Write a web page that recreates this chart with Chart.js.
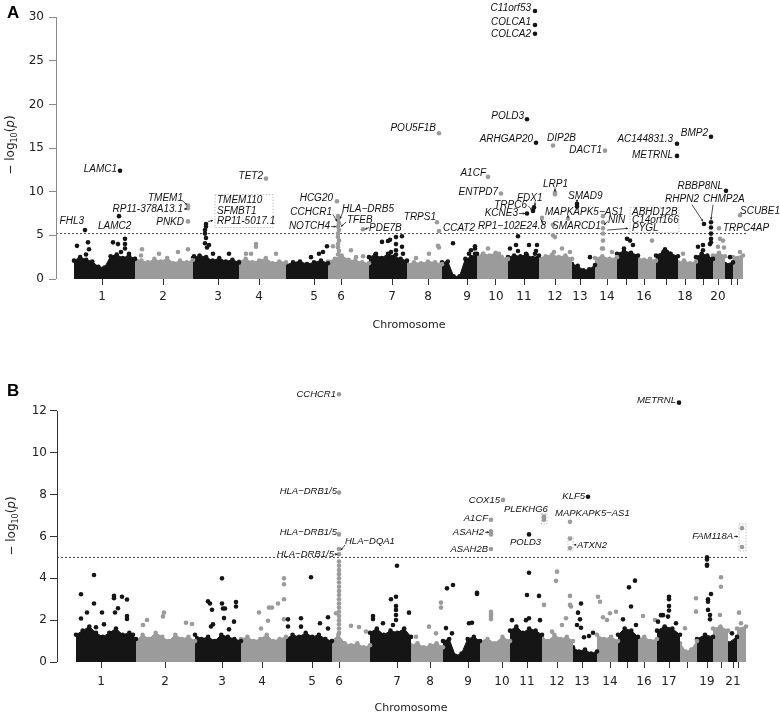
<!DOCTYPE html>
<html>
<head>
<meta charset="utf-8">
<script src="https://cdn.jsdelivr.net/npm/chart.js@4.4.1/dist/chart.umd.min.js"></script>
<style>
  html, body { margin: 0; padding: 0; background: #fff; }
  #wrapA { position: absolute; left: 0; top: 0; width: 780px; height: 340px; }
  #wrapB { position: absolute; left: 0; top: 340px; width: 780px; height: 375px; }
</style>
</head>
<body>
<div id="wrapA"><canvas id="chartA" width="780" height="340"></canvas></div>
<div id="wrapB"><canvas id="chartB" width="780" height="375"></canvas></div>
<script>
// ---- panel A data (x = cumulative genome position index, y = -log10 p) ----
const chromStartA = [74, 135, 193, 239, 286, 328, 369, 407, 442, 477, 508, 539, 572, 595, 617, 638, 656, 678, 696, 713, 725, 733];
const chromEndA = 743;
const tickPosA = [102, 163, 218, 259, 314, 341, 392, 428, 467, 496, 524, 555, 580, 607, 626, 644, 666, 685, 703, 718, 731, 737];
const tickLabelA = ['1', '2', '3', '4', '5', '6', '7', '8', '9', '10', '11', '12', '13', '14', '', '16', '', '18', '', '20', '', ''];
const yTicksA = [0, 5, 10, 15, 20, 25, 30];
const thresholdA = 5.2;

// top of the dense SNP cloud per chromosome
const bandA = [
  [2.1, 2.5, 2.2, 2.0, 1.4, 1.3, 2.6, 2.8, 2.4, 2.7, 2.3],
  [2.3, 2.1, 1.9, 2.3, 2.0, 2.4, 1.8, 2.1, 1.9, 2.2],
  [2.4, 2.7, 2.5, 2.1, 2.4, 2.0, 2.2, 1.9],
  [2.0, 2.3, 1.9, 2.1, 2.4, 1.8, 2.0, 1.9],
  [1.6, 1.9, 2.0, 1.7, 1.9, 2.1, 1.8],
  [2.0, 2.3, 2.7, 2.2, 2.1, 1.9, 1.8],
  [2.5, 2.8, 2.4, 2.9, 2.6, 2.3, 2.1],
  [1.7, 1.9, 1.8, 2.0, 1.9, 1.7],
  [1.9, 2.0, 0.3, 0.3, 2.3, 2.5, 2.9],
  [2.6, 2.9, 2.7, 3.0, 2.5, 2.3],
  [2.5, 2.7, 2.6, 2.8, 2.4, 2.7],
  [2.4, 2.6, 2.8, 2.5, 2.7, 2.3],
  [1.7, 1.5, 1.0, 1.1, 1.6],
  [2.4, 2.6, 2.3, 2.5],
  [2.9, 3.2, 3.0, 2.7],
  [2.4, 2.2, 2.3, 2.1],
  [2.7, 3.1, 2.9, 2.6],
  [1.9, 2.1, 1.8, 2.0],
  [2.5, 2.9, 2.7, 2.3],
  [2.7, 3.0, 2.6],
  [1.7, 1.9],
  [2.5, 2.7]
];

const hitsA = [
  [535, 30.7], [535, 29.1], [535, 28.1], [527, 18.3], [536, 15.6], [553, 15.3], [605, 14.7],
  [677, 15.5], [677, 14.1], [711, 16.3], [439, 16.7], [120, 12.4], [266, 11.5], [488, 11.7],
  [501, 9.8], [726, 10.1], [337, 8.9], [555, 9.7], [555, 9.9], [577, 8.6], [577, 8.3],
  [534, 8.2], [533, 7.8], [527, 7.5], [740, 7.3], [119, 7.2], [188, 8.4], [188, 8.1],
  [188, 6.6], [704, 6.3], [711, 6.5], [719, 5.8], [437, 6.5], [439, 5.5], [363, 5.7],
  [85, 5.6], [542, 7.0], [568, 6.9], [553, 6.2], [603, 7.2], [603, 6.5], [603, 5.8],
  [603, 5.2], [603, 4.4], [603, 3.5],
  [338, 7.2], [338, 6.8], [339, 6.4], [338, 6.0], [339, 5.6], [338, 5.2], [338, 4.8],
  [339, 4.4], [338, 4.0], [338, 3.6], [339, 3.2], [338, 2.8],
  [206, 6.3], [206, 6.0], [205, 5.6], [205, 5.2], [206, 4.7], [205, 4.1], [207, 3.6],
  [209, 3.9], [213, 2.9], [194, 2.6], [229, 2.9],
  [77, 3.8], [88, 4.2], [89, 3.4], [86, 2.8], [113, 4.2], [118, 4.0], [125, 4.6],
  [125, 4.0], [125, 3.5], [121, 3.1], [129, 2.9],
  [141, 2.7], [142, 3.4], [159, 2.9], [178, 3.1], [188, 3.4],
  [256, 4.0], [256, 3.7], [246, 2.9], [251, 2.9], [276, 2.9],
  [327, 3.75], [323, 3.1], [319, 2.9], [311, 2.5],
  [333, 3.75], [351, 3.3], [356, 2.5], [363, 2.6],
  [382, 4.25], [388, 4.35], [390, 4.5], [396, 4.8], [402, 4.9], [396, 4.0], [396, 3.3],
  [396, 2.8], [403, 2.9], [402, 3.7], [376, 2.9], [391, 3.1],
  [438, 3.8], [439, 3.6], [416, 2.4], [429, 2.9],
  [453, 4.1], [469, 2.9], [471, 3.3], [475, 3.75], [475, 3.5], [475, 2.9],
  [483, 2.9], [488, 3.5], [499, 2.9],
  [510, 3.5], [518, 4.9], [516, 3.9], [518, 3.2], [526, 2.9], [529, 3.9], [536, 3.2],
  [537, 3.9], [535, 2.9],
  [553, 5.0], [555, 4.8], [554, 3.1], [562, 3.5], [570, 3.1],
  [590, 2.5], [602, 3.5], [612, 3.1],
  [627, 4.6], [630, 4.4], [633, 3.9], [624, 3.5], [652, 4.4],
  [665, 3.4], [667, 3.1], [670, 2.9], [683, 2.9],
  [711, 5.9], [711, 5.2], [711, 4.6], [711, 4.2], [703, 3.3], [703, 3.9], [698, 3.7], [710, 4.0],
  [720, 4.6], [723, 4.4], [718, 3.7], [724, 3.6], [730, 2.5], [740, 3.1]
];

// ---- panel B data ----
const chromStartB = [76, 136, 195, 241, 286, 332, 370, 411, 443, 480, 510, 542, 573, 597, 618, 638, 657, 680, 697, 713, 728, 737];
const chromEndB = 746;
const tickPosB = [101, 165, 222, 262, 312, 339, 397, 430, 468, 502, 527, 557, 582, 610, 627, 644, 669, 687, 707, 721, 733, 738];
const tickLabelB = ['1', '2', '3', '4', '5', '6', '7', '8', '9', '10', '11', '12', '13', '14', '', '16', '17', '', '19', '', '21', ''];
const yTicksB = [0, 2, 4, 6, 8, 10, 12];
const thresholdB = 5.0;

const bandB = [
  [1.3, 1.5, 1.7, 1.4, 1.2, 1.4, 1.6, 1.3, 1.4, 1.1],
  [1.0, 1.3, 1.1, 1.4, 1.2, 1.0, 1.3, 1.1, 1.2, 1.0],
  [1.3, 1.1, 1.2, 1.0, 1.3, 1.2, 1.1, 1.0],
  [1.1, 1.2, 1.0, 1.1, 1.3, 1.0, 1.1, 1.2],
  [1.1, 1.3, 1.2, 1.4, 1.2, 1.3, 1.1, 1.0],
  [1.0, 1.3, 0.9, 0.8, 0.9, 0.7, 0.8],
  [1.4, 1.6, 1.3, 1.5, 1.4, 1.6, 1.2],
  [0.8, 0.9, 0.7, 0.8, 0.9, 0.7],
  [1.0, 1.1, 0.3, 0.4, 1.1, 1.2, 1.0],
  [1.0, 1.1, 0.9, 1.2, 1.0],
  [1.5, 1.7, 1.4, 1.6, 1.5, 1.3],
  [1.2, 1.0, 1.3, 1.1, 1.2, 1.0],
  [0.7, 0.5, 0.6, 0.4, 0.5],
  [1.3, 1.1, 1.2, 1.0],
  [1.3, 1.6, 1.5, 1.2],
  [1.1, 1.2, 1.0, 1.1],
  [1.5, 1.7, 1.6, 1.3],
  [0.9, 0.5, 0.6, 1.0],
  [1.1, 1.3, 1.2],
  [1.6, 1.7, 1.5],
  [0.9, 1.2],
  [1.6, 1.7]
];

const hitsB = [
  [339, 12.8], [679, 12.4], [339, 8.1], [339, 6.1], [339, 5.4], [339, 5.15], [503, 7.75],
  [491, 6.8], [491, 6.25], [491, 6.1], [491, 5.4], [544, 6.95], [544, 6.8], [529, 6.1],
  [588, 7.9], [570, 6.7], [570, 5.9], [570, 5.45], [742, 6.4], [742, 5.5],
  [707, 5.0], [707, 4.9], [707, 4.6],
  [339, 4.8], [339, 4.6], [339, 4.4], [339, 4.2], [339, 4.0], [339, 3.8], [339, 3.6],
  [339, 3.4], [339, 3.2], [339, 3.0], [339, 2.8], [339, 2.6], [339, 2.4], [339, 2.2],
  [339, 2.0], [339, 1.8], [339, 1.6], [339, 1.4],
  [94, 4.16], [81, 3.24], [94, 2.8], [87, 2.37], [81, 2.08], [102, 2.37], [104, 1.8],
  [96, 1.66], [114, 3.16], [114, 3.05], [122, 3.12], [127, 2.99], [118, 2.57], [115, 2.37],
  [127, 2.2], [127, 2.06], [133, 1.3],
  [147, 2.01], [143, 1.77], [164, 2.37], [163, 2.18], [186, 1.88], [192, 1.82],
  [208, 2.9], [210, 2.8], [212, 2.5], [213, 1.8], [211, 1.7], [222, 4.0], [222, 2.8],
  [223, 2.56], [225, 2.56], [224, 2.1], [236, 2.87], [236, 2.65], [234, 1.93], [229, 1.56],
  [284, 4.0], [284, 3.72], [284, 3.0], [278, 2.8], [272, 2.6], [269, 2.6], [259, 2.37],
  [268, 1.97], [261, 1.6], [284, 2.04],
  [288, 2.04], [288, 1.7], [311, 4.05], [301, 2.09], [301, 1.69], [320, 1.85], [328, 2.14], [328, 1.6],
  [336, 2.33], [351, 1.73], [359, 1.67], [366, 1.46],
  [397, 4.6], [391, 3.0], [396, 3.12], [396, 2.68], [396, 2.49], [396, 2.25], [396, 2.01],
  [409, 2.36], [373, 2.2], [373, 2.05], [393, 1.77], [383, 1.85],
  [429, 1.69], [416, 1.21], [436, 1.37], [441, 2.84], [441, 2.6],
  [447, 3.52], [453, 3.68], [446, 1.62], [452, 1.37], [477, 3.31], [477, 3.25], [469, 1.85], [472, 1.88],
  [491, 2.4], [491, 2.3], [491, 2.2], [491, 2.05],
  [529, 4.27], [527, 3.2], [526, 2.0], [512, 2.0], [529, 2.09], [539, 3.16], [540, 2.0],
  [557, 4.32], [556, 3.88], [544, 2.73], [570, 3.16], [570, 2.73], [571, 2.65], [566, 2.09],
  [562, 1.77], [552, 1.45],
  [581, 2.8], [578, 2.36], [580, 2.04], [577, 1.77], [581, 1.64], [584, 1.18], [589, 1.24], [593, 1.4],
  [598, 3.12], [600, 2.88], [603, 2.14], [610, 2.33], [607, 2.01], [616, 2.4],
  [629, 3.57], [635, 3.89], [631, 2.65], [623, 2.04], [636, 1.77],
  [643, 2.2], [655, 2.01],
  [661, 2.24], [663, 2.24], [669, 3.12], [669, 3.0], [669, 2.68], [669, 2.46], [668, 2.17],
  [676, 1.85], [658, 1.93],
  [696, 3.05], [696, 2.41], [685, 1.61],
  [707, 4.65], [711, 3.25], [708, 3.0], [708, 2.88], [708, 2.49], [710, 2.25], [710, 2.04],
  [721, 4.05], [721, 3.6], [720, 2.25], [732, 1.37], [739, 2.36], [741, 1.85]
];

// ---- annotation layout (text, x, y, align) ----
const labelsA = [
  ['C11orf53', 531, 31.0, 'right'], ['COLCA1', 531, 29.4, 'right'], ['COLCA2', 531, 28.0, 'right'],
  ['POLD3', 524, 18.6, 'right'], ['ARHGAP20', 533, 16.0, 'right'], ['DIP2B', 547, 16.1, 'left'],
  ['DACT1', 602, 14.7, 'right'], ['AC144831.3', 673, 16.0, 'right'], ['METRNL', 673, 14.2, 'right'],
  ['BMP2', 708, 16.7, 'right'], ['POU5F1B', 436, 17.3, 'right'], ['LAMC1', 117, 12.6, 'right'],
  ['TET2', 263, 11.8, 'right'], ['A1CF', 486, 12.1, 'right'], ['ENTPD7', 498, 9.9, 'right'],
  ['RBBP8NL', 723, 10.6, 'right'], ['LRP1', 543, 10.8, 'left'], ['SMAD9', 568, 9.5, 'left'],
  ['FDX1', 517, 9.3, 'left'], ['TRPC6', 527, 8.5, 'right'], ['KCNE3', 518, 7.5, 'right'],
  ['RP1\u2212102E24.8', 546, 6.1, 'right'], ['MAPKAPK5\u2212AS1', 545, 7.6, 'left'],
  ['SMARCD1', 552, 6.1, 'left'], ['NIN', 608, 6.7, 'left'], ['RHPN2', 699, 9.1, 'right'],
  ['CHMP2A', 703, 9.1, 'left'], ['SCUBE1', 740, 7.8, 'left'], ['TRPC4AP', 723, 5.8, 'left'],
  ['HCG20', 333, 9.3, 'right'], ['CCHCR1', 332, 7.6, 'right'], ['HLA\u2212DRB5', 342, 8.0, 'left'],
  ['TFEB', 347, 6.7, 'left'], ['NOTCH4', 330, 6.0, 'right'], ['PDE7B', 369, 5.8, 'left'],
  ['TRPS1', 436, 7.1, 'right'], ['CCAT2', 443, 5.8, 'left'], ['FHL3', 84, 6.6, 'right'],
  ['LAMC2', 98, 6.1, 'left'], ['RP11-378A13.1', 183, 7.95, 'right'], ['TMEM1', 183, 9.2, 'right'],
  ['PNKD', 184, 6.5, 'right'], ['TMEM110', 217, 8.98, 'left'], ['SFMBT1', 217, 7.73, 'left'],
  ['RP11-5017.1', 217, 6.6, 'left'], ['ABHD12B', 632, 7.6, 'left'], ['C14orf166', 632, 6.7, 'left'],
  ['PYGL', 632, 5.8, 'left']
];
const arrowsA = [
  [[182, 9.0], [187, 8.5]], [[184, 8.0], [187, 8.05]], [[208, 6.6], [213, 6.7]],
  [[333, 7.4], [337, 6.6]], [[343, 7.7], [340, 6.9]], [[346, 6.5], [341, 6.0]],
  [[331, 6.0], [336, 6.0]], [[369, 5.9], [365, 5.7]], [[528, 8.4], [532, 7.9]],
  [[519, 7.5], [525, 7.5]], [[535, 8.9], [535, 8.4]], [[544, 6.2], [541, 6.8]],
  [[555, 10.5], [555, 10.0]], [[577, 9.1], [577, 8.8]], [[568, 7.3], [568, 7.0]],
  [[608, 6.6], [604, 6.2]], [[607, 5.6], [628, 5.8]], [[692, 8.5], [703, 6.6]], [[713, 8.5], [711, 6.8]]
];
const boxesA = [[215, 273, 5.9, 9.66], [630, 679, 5.34, 8.18]];

const labelsB = [
  ['CCHCR1', 336, 12.8, 'right'], ['METRNL', 676, 12.5, 'right'],
  ['HLA\u2212DRB1/5', 337, 8.15, 'right'], ['HLA\u2212DRB1/5', 337, 6.2, 'right'],
  ['HLA\u2212DQA1', 345, 5.75, 'left'], ['HLA\u2212DRB1/5', 334, 5.15, 'right'],
  ['COX15', 500, 7.75, 'right'], ['A1CF', 488, 6.85, 'right'], ['ASAH2', 484, 6.2, 'right'],
  ['ASAH2B', 488, 5.4, 'right'], ['PLEKHG6', 504, 7.3, 'left'], ['POLD3', 510, 5.7, 'left'],
  ['KLF5', 585, 7.9, 'right'], ['MAPKAPK5\u2212AS1', 555, 7.1, 'left'], ['ATXN2', 577, 5.6, 'left'],
  ['FAM118A', 733, 6.0, 'right']
];
const arrowsB = [
  [[485, 6.2], [489, 6.2]], [[576, 5.6], [574, 5.6]], [[734, 6.0], [738, 6.0]],
  [[345, 5.6], [341, 5.35]], [[334.5, 5.15], [337.5, 5.15]]
];
const boxesB = [[541.5, 547, 6.6, 7.1], [568, 573, 5.31, 5.98], [739, 746, 5.31, 6.6]];

const BLACK = '#151515';
const GREY = '#9b9b9b';

function colourAt(x, starts) {
  let i = 0;
  while (i + 1 < starts.length && x >= starts[i + 1]) i++;
  return i % 2 === 0 ? BLACK : GREY;
}

function drawYTitle(ctx, cx, cy, size) {
  const parts = [
    ['\u2212 log', `${size}px "DejaVu Sans"`, 0],
    ['10', `${Math.round(size * 0.7)}px "DejaVu Sans"`, size * 0.3],
    ['(', `${size}px "DejaVu Sans"`, 0],
    ['p', `italic ${size}px "DejaVu Sans"`, 0],
    [')', `${size}px "DejaVu Sans"`, 0]
  ];
  ctx.save();
  ctx.translate(cx, cy);
  ctx.rotate(-Math.PI / 2);
  ctx.textBaseline = 'middle';
  ctx.textAlign = 'left';
  let total = 0;
  parts.forEach(p => { ctx.font = p[1]; total += ctx.measureText(p[0]).width; });
  let xx = -total / 2;
  parts.forEach(p => {
    ctx.font = p[1];
    ctx.fillText(p[0], xx, p[2]);
    xx += ctx.measureText(p[0]).width;
  });
  ctx.restore();
}

function annotPlugin(cfg) {
  return {
    id: 'annot',
    afterDatasetsDraw(chart) {
      const { ctx, scales: { x, y } } = chart;
      const px = v => x.getPixelForValue(v);
      const py = v => y.getPixelForValue(v);
      ctx.save();
      // y axis line, only across the tick range
      const yt = cfg.yTicks;
      ctx.strokeStyle = cfg.axisCol;
      ctx.lineWidth = 1;
      ctx.beginPath();
      ctx.moveTo(Math.round(px(cfg.xmin)) + 0.5, py(yt[0]));
      ctx.lineTo(Math.round(px(cfg.xmin)) + 0.5, py(yt[yt.length - 1]));
      ctx.stroke();
      // dotted boxes round stacked hits
      ctx.strokeStyle = '#b0b0b0';
      ctx.lineWidth = 0.8;
      ctx.setLineDash([1.5, 1.5]);
      cfg.boxes.forEach(b => {
        ctx.strokeRect(px(b[0]), py(b[3]), px(b[1]) - px(b[0]), py(b[2]) - py(b[3]));
      });
      ctx.setLineDash([]);
      // pointer lines
      ctx.strokeStyle = '#222';
      ctx.fillStyle = '#222';
      ctx.lineWidth = 0.8;
      cfg.arrows.forEach(a => {
        const x0 = px(a[0][0]), y0 = py(a[0][1]), x1 = px(a[1][0]), y1 = py(a[1][1]);
        ctx.beginPath(); ctx.moveTo(x0, y0); ctx.lineTo(x1, y1); ctx.stroke();
        const ang = Math.atan2(y1 - y0, x1 - x0);
        ctx.beginPath();
        ctx.moveTo(x1, y1);
        ctx.lineTo(x1 - 2.5 * Math.cos(ang - 0.5), y1 - 2.5 * Math.sin(ang - 0.5));
        ctx.lineTo(x1 - 2.5 * Math.cos(ang + 0.5), y1 - 2.5 * Math.sin(ang + 0.5));
        ctx.closePath(); ctx.fill();
      });
      // gene labels
      ctx.fillStyle = '#111';
      ctx.font = `italic ${cfg.labelSize}px "Liberation Sans", Arial, sans-serif`;
      ctx.textBaseline = 'middle';
      cfg.labels.forEach(l => {
        ctx.textAlign = l[3];
        ctx.fillText(l[0], px(l[1]), py(l[2]));
      });
      // panel letter and axis titles
      ctx.fillStyle = '#000';
      ctx.font = 'bold 17px "Liberation Sans", Arial, sans-serif';
      ctx.textAlign = 'left';
      ctx.fillText(cfg.letter, 7, cfg.letterY);
      ctx.fillStyle = '#222';
      ctx.font = '11px "DejaVu Sans"';
      ctx.textAlign = 'center';
      ctx.fillText('Chromosome', cfg.xTitle[0], cfg.xTitle[1]);
      drawYTitle(ctx, cfg.yTitle[0], cfg.yTitle[1], 12);
      ctx.restore();
    }
  };
}

function makePanel(id, cfg) {
  const datasets = [];
  datasets.push({
    type: 'scatter',
    data: cfg.hits.map(p => ({ x: p[0], y: p[1] })),
    pointRadius: 2.3,
    pointBorderWidth: 0,
    pointBackgroundColor: cfg.hits.map(p => colourAt(p[0], cfg.starts)),
    clip: false,
    order: 0
  });
  datasets.push({
    type: 'line',
    data: [{ x: cfg.xmin, y: cfg.threshold }, { x: cfg.xmax, y: cfg.threshold }],
    borderColor: '#444',
    borderWidth: 1,
    borderDash: [2, 2],
    pointRadius: 0,
    order: 1
  });
  cfg.bands.forEach((h, i) => {
    const x0 = cfg.starts[i];
    const x1 = i + 1 < cfg.starts.length ? cfg.starts[i + 1] : cfg.end;
    const col = i % 2 === 0 ? BLACK : GREY;
    datasets.push({
      type: 'line',
      data: h.map((v, j) => ({ x: x0 + (x1 - x0) * j / (h.length - 1), y: v })),
      borderColor: col,
      borderWidth: 1,
      backgroundColor: col,
      fill: 'origin',
      pointRadius: 2.3,
      pointBorderWidth: 0,
      pointBackgroundColor: col,
      tension: 0,
      clip: false,
      order: 2
    });
  });

  const noPad = s => { s.paddingTop = 0; s.paddingBottom = 0; s.paddingLeft = 0; s.paddingRight = 0; };

  new Chart(document.getElementById(id), {
    type: 'scatter',
    data: { datasets },
    options: {
      responsive: false,
      animation: false,
      events: [],
      layout: { padding: { top: cfg.top, right: 780 - cfg.xmax, left: 0, bottom: 0 } },
      plugins: { legend: { display: false }, tooltip: { enabled: false } },
      scales: {
        x: {
          type: 'linear',
          min: cfg.xmin,
          max: cfg.xmax,
          afterBuildTicks: s => { s.ticks = cfg.tickPos.map(v => ({ value: v })); },
          afterFit: s => { s.height = cfg.xAxisH; noPad(s); },
          ticks: {
            autoSkip: false,
            maxRotation: 0,
            padding: cfg.xPad,
            color: '#222',
            font: { family: 'DejaVu Sans', size: 12 },
            callback: (v, i) => cfg.tickLabel[i]
          },
          grid: { drawOnChartArea: false, drawTicks: true, tickLength: 6, color: '#333' },
          border: { display: false }
        },
        y: {
          min: 0,
          max: cfg.ymax,
          afterBuildTicks: s => { s.ticks = cfg.yTicks.map(v => ({ value: v })); },
          afterFit: s => { s.width = cfg.xmin; noPad(s); },
          ticks: { autoSkip: false, padding: cfg.yPad, color: '#222', font: { family: 'DejaVu Sans', size: 12 } },
          grid: { drawOnChartArea: false, drawTicks: true, tickLength: 7, color: cfg.axisCol },
          border: { display: false }
        }
      }
    },
    plugins: [annotPlugin(cfg)]
  });
}

// y max sits a little above the top tick so the highest hits are not cut off
makePanel('chartA', {
  starts: chromStartA, end: chromEndA, bands: bandA, hits: hitsA,
  tickPos: tickPosA, tickLabel: tickLabelA, yTicks: yTicksA, threshold: thresholdA,
  xmin: 56, xmax: 746, ymax: 31.5, top: 1.8, xAxisH: 61,
  xPad: 5, yPad: 5, axisCol: '#8a8a8a',
  labels: labelsA, arrows: arrowsA, boxes: boxesA, labelSize: 10,
  letter: 'A', letterY: 13, xTitle: [409, 325], yTitle: [11, 145]
});

makePanel('chartB', {
  starts: chromStartB, end: chromEndB, bands: bandB, hits: hitsB,
  tickPos: tickPosB, tickLabel: tickLabelB, yTicks: yTicksB, threshold: thresholdB,
  xmin: 57, xmax: 747, ymax: 13.2, top: 45.9, xAxisH: 53,
  xPad: 7, yPad: 3, axisCol: '#333',
  labels: labelsB, arrows: arrowsB, boxes: boxesB, labelSize: 9.5,
  letter: 'B', letterY: 51, xTitle: [411, 368], yTitle: [12, 186]
});
</script>
</body>
</html>
